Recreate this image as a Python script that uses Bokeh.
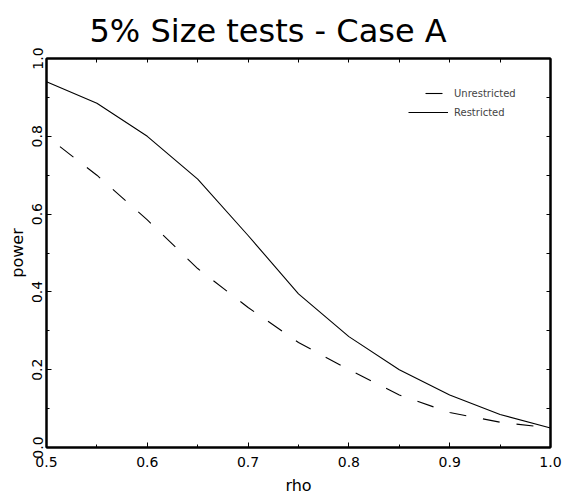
from bokeh.plotting import figure
from bokeh.models import Range1d, LinearAxis, FixedTicker, Legend, LegendItem
from bokeh.embed import file_html
from bokeh.resources import INLINE

# ---- data ----
rho = [0.50, 0.55, 0.60, 0.65, 0.70, 0.75, 0.80, 0.85, 0.90, 0.95, 1.00]
restricted = [0.94, 0.885, 0.80, 0.69, 0.545, 0.395, 0.285, 0.20, 0.135, 0.085, 0.05]
unrestricted = [0.80, 0.70, 0.585, 0.46, 0.36, 0.27, 0.20, 0.135, 0.09, 0.065, 0.05]

x_ticks = [0.5, 0.6, 0.7, 0.8, 0.9, 1.0]
x_minor = [0.55, 0.65, 0.75, 0.85, 0.95]
x_tick_labels = ["0.5", "0.6", "0.7", "0.8", "0.9", "1.0"]
y_ticks = [0.0, 0.2, 0.4, 0.6, 0.8, 1.0]
y_minor = [0.1, 0.3, 0.5, 0.7, 0.9]
y_tick_labels = ["0.0", "0.2", "0.4", "0.6", "0.8", "1.0"]

FONT = "DejaVu Sans"

p = figure(frame_width=504, frame_height=389, output_backend="svg", toolbar_location=None,
           x_range=Range1d(0.5, 1.0), y_range=Range1d(0.0, 1.0),
           x_axis_location=None, y_axis_location=None,
           min_border_left=46, min_border_right=24, min_border_top=56, min_border_bottom=40,
           title="5% Size tests - Case A")
p.grid.visible = False
p.outline_line_color = "black"
p.outline_line_width = 2
p.background_fill_color = "white"
p.border_fill_color = "white"

p.title.text_font = FONT
p.title.text_font_size = "32px"
p.title.text_font_style = "normal"
p.title.align = "left"
p.title.offset = 43
p.title.standoff = 18
p.title.text_color = "black"


def style_axis(ax, tick_len):
    ax.major_tick_in = tick_len
    ax.major_tick_out = 0
    ax.minor_tick_in = 3
    ax.minor_tick_out = 0
    ax.axis_line_width = 2
    ax.axis_line_color = "black"
    ax.major_tick_line_color = "black"
    ax.minor_tick_line_color = "black"


def label_axis(ticks, minor, labels, label_text, standoff, label_standoff):
    ax = LinearAxis(ticker=FixedTicker(ticks=ticks, minor_ticks=minor))
    style_axis(ax, 5)
    ax.major_label_overrides = dict(zip(ticks, labels))
    ax.major_label_text_font = FONT
    ax.major_label_text_font_size = "14px"
    ax.major_label_text_color = "black"
    ax.major_label_standoff = standoff
    ax.axis_label = label_text
    ax.axis_label_text_font = FONT
    ax.axis_label_text_font_size = "16px"
    ax.axis_label_text_font_style = "normal"
    ax.axis_label_text_color = "black"
    ax.axis_label_standoff = label_standoff
    return ax


def tick_only_axis(ticks, minor):
    # all ticks as minor ticks -> no tick labels drawn
    ax = LinearAxis(ticker=FixedTicker(ticks=[], minor_ticks=sorted(ticks + minor)))
    style_axis(ax, 4)
    ax.minor_tick_in = 4
    return ax


bottom = label_axis(x_ticks, x_minor, x_tick_labels, "rho", 9, 6)
left = label_axis(y_ticks, y_minor, y_tick_labels, "power", 4, 3)
left.major_label_orientation = "vertical"
top = tick_only_axis(x_ticks, x_minor)
right = tick_only_axis(y_ticks, y_minor)

p.add_layout(bottom, "below")
p.add_layout(top, "above")
p.add_layout(left, "left")
p.add_layout(right, "right")

r_unres = p.line(rho, unrestricted, line_color="black", line_width=1.1,
                 line_dash="17 17", line_dash_offset=17)
r_res = p.line(rho, restricted, line_color="black", line_width=1.1)

legend = Legend(items=[LegendItem(label="Unrestricted", renderers=[r_unres]),
                       LegendItem(label="Restricted", renderers=[r_res])],
                location=(362, 328), background_fill_alpha=0, border_line_color=None,
                label_text_font=FONT, label_text_font_size="10px",
                glyph_width=40, glyph_height=14, label_height=14, spacing=5,
                padding=0, margin=0, label_standoff=6)
p.add_layout(legend)

open("out.html", "w").write(file_html(p, INLINE))
